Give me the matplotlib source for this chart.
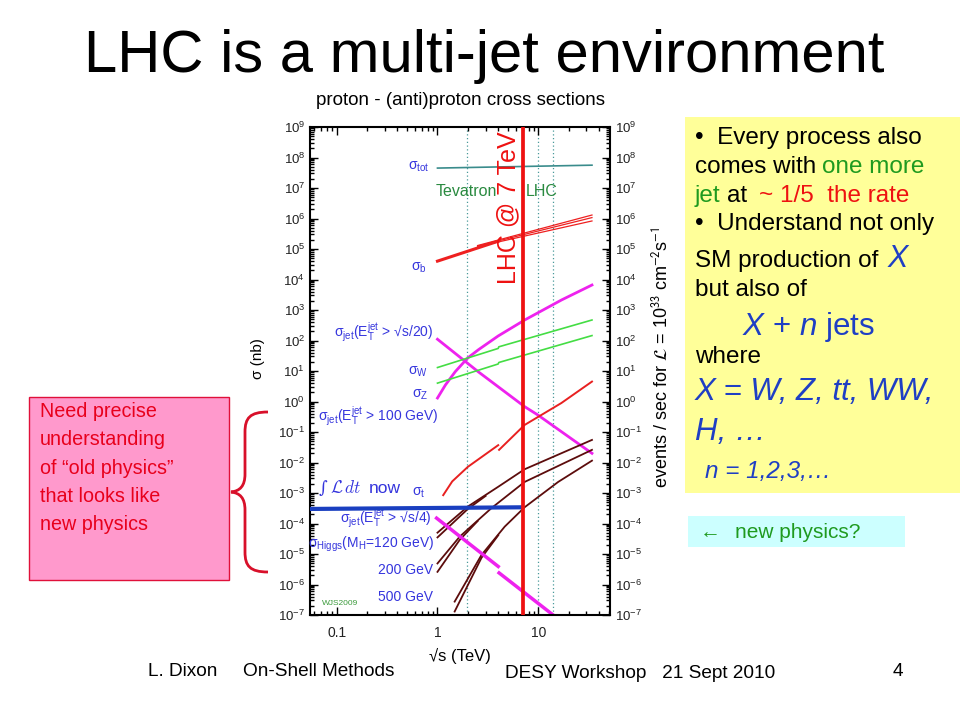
import numpy as np
import matplotlib
matplotlib.use('Agg')
import matplotlib.pyplot as plt
from matplotlib.patches import Rectangle, PathPatch
from matplotlib.path import Path
from matplotlib.ticker import LogLocator, FuncFormatter, NullFormatter, FixedLocator

plt.rcParams['font.family'] = ['Liberation Sans', 'DejaVu Sans']
plt.rcParams['mathtext.fontset'] = 'custom'
plt.rcParams['mathtext.rm'] = 'Liberation Sans'
plt.rcParams['mathtext.it'] = 'Liberation Sans:italic'
plt.rcParams['mathtext.bf'] = 'Liberation Sans:bold'

# cross sections: sqrt(s) in TeV, sigma in nb
tot_rs = [1.0, 34.0]
tot_sig = [4.5e7, 5.6e7]

b_tev_rs = [1.0, 4.0]
b_tev_sig = [4.0e4, 1.8e5]
b_lhc_rs = [2.5, 34.0]
b_lhc_sig = [[1.30e5, 1.30e6], [1.25e5, 1.07e6], [1.20e5, 8.3e5]]

jet_rise_rs = [1.0, 1.2, 1.5, 2.0, 2.55, 4.0, 7.3, 17.0, 34.0]
jet_rise_sig = [1.3, 3.5, 9.5, 27.0, 50.0, 141.0, 468.0, 2140.0, 6600.0]

jet_fall_rs = [1.0, 2.53, 7.3, 9.9, 34.0]
jet_fall_sig = [1.1e2, 9.5, 6.8e-1, 3.6e-1, 2.0e-2]

w_rs = [1.0, 4.0, 4.05, 34.0]
w_sig = [13.0, 55.0, 62.0, 470.0]
z_rs = [1.0, 4.0, 4.05, 34.0]
z_sig = [4.0, 17.0, 19.0, 145.0]

top_tev_rs = [1.14, 1.4, 2.0, 4.0]
top_tev_sig = [8.5e-4, 2.4e-3, 7.2e-3, 3.7e-2]
top_lhc_rs = [4.08, 7.3, 16.9, 34.0]
top_lhc_sig = [2.6e-2, 1.7e-1, 8.9e-1, 4.5]

h120_rs = [1.0, 2.0, 4.0, 7.3, 34.0]
h120_sig = [5.0e-5, 3.6e-4, 1.6e-3, 6.0e-3, 5.5e-2]
h120b_rs = [1.0, 2.0, 3.0]
h120b_sig = [3.5e-5, 3.0e-4, 8.0e-4]

h200_rs = [1.0, 1.66, 3.43, 7.3, 34.0]
h200_sig = [4.9e-6, 3.7e-5, 3.2e-4, 2.3e-3, 2.6e-2]
h200b_rs = [1.0, 1.66, 2.5]
h200b_sig = [2.6e-6, 2.9e-5, 1.2e-4]

h500_rs = [1.48, 2.73, 4.64, 7.3, 15.7, 34.0]
h500_sig = [2.75e-7, 9.3e-6, 7.9e-5, 3.4e-4, 2.3e-3, 1.15e-2]
h500b_rs = [1.48, 2.73, 4.0]
h500b_sig = [1.3e-7, 7.5e-6, 4.1e-5]

jet4_tev_rs = [0.98, 4.0]
jet4_tev_sig = [1.5e-4, 3.9e-6]
jet4_lhc_rs = [4.08, 14.0]
jet4_lhc_sig = [2.4e-6, 1.0e-7]

lumi_rs = [0.0545, 7.0]
lumi_sig = [3.0e-4, 3.4e-4]

tevatron_energy = 1.96
lhc_energies = [10.0, 14.0]
lhc_now = 7.0

W, H = 960, 720
fig = plt.figure(figsize=(W / 100, H / 100), dpi=100)


def fx(x):
    return x / W


def fy(y):
    return 1 - y / H


def ftxt(x, y, s, **kw):
    kw.setdefault('va', 'baseline')
    return fig.text(fx(x), fy(y), s, **kw)


# ---- cross section plot ----
ax = fig.add_axes([fx(310), fy(615), 300 / W, 488 / H])
ax.set_xscale('log')
ax.set_yscale('log')
ax.set_xlim(0.0545, 51.3)
ax.set_ylim(1e-7, 1e9)

mag = '#ee22ee'
maroon = '#5c0c0c'
lblue = '#3535dd'

ax.plot(tot_rs, tot_sig, color='#3a8c8c', lw=1.2)
ax.plot(b_tev_rs, b_tev_sig, color='#ee2020', lw=2.2)
for s in b_lhc_sig:
    ax.plot(b_lhc_rs, s, color='#ee2020', lw=0.9)
ax.plot(jet_rise_rs, jet_rise_sig, color=mag, lw=2)
ax.plot(jet_fall_rs, jet_fall_sig, color=mag, lw=2)
ax.plot(w_rs, w_sig, color='#44dd44', lw=1.2)
ax.plot(z_rs, z_sig, color='#44dd44', lw=1.2)
ax.plot(top_tev_rs, top_tev_sig, color='#e82020', lw=1.4)
ax.plot(top_lhc_rs, top_lhc_sig, color='#e82020', lw=1.4)
for rs, sg in [(h120_rs, h120_sig), (h120b_rs, h120b_sig),
               (h200_rs, h200_sig), (h200b_rs, h200b_sig),
               (h500_rs, h500_sig), (h500b_rs, h500b_sig)]:
    ax.plot(rs, sg, color=maroon, lw=1.3)
ax.plot(jet4_tev_rs, jet4_tev_sig, color=mag, lw=2.5)
ax.plot(jet4_lhc_rs, jet4_lhc_sig, color=mag, lw=2.5)
ax.plot(lumi_rs, lumi_sig, color='#1a3fc0', lw=3, zorder=4, solid_capstyle='butt')

for e in [tevatron_energy] + lhc_energies:
    ax.axvline(e, color='#4a9a9a', lw=0.9, ls=(0, (1, 2)), zorder=1)
ax.axvline(lhc_now, color='#ee1111', lw=2.7, zorder=5)

# labels inside the plot
ax.text(0.65, 3.9e7, r'σ$_{\rm tot}$', color=lblue, fontsize=10, ha='center')
ax.text(0.65, 2.0e4, r'σ$_{\rm b}$', color=lblue, fontsize=10, ha='center')
ax.text(0.91, 1.9e2, r'σ$_{\rm jet}$(E$_{\rm T}^{\rm jet}$ > √s/20)', color=lblue, fontsize=10, ha='right', va='center')
ax.text(0.81, 9.5, r'σ$_{\rm W}$', color=lblue, fontsize=10, ha='right', va='center')
ax.text(0.81, 1.6, r'σ$_{\rm Z}$', color=lblue, fontsize=10, ha='right', va='center')
ax.text(1.02, 0.33, r'σ$_{\rm jet}$(E$_{\rm T}^{\rm jet}$ > 100 GeV)', color=lblue, fontsize=10, ha='right', va='center')
ax.text(0.65, 1.0e-3, r'σ$_{\rm t}$', color=lblue, fontsize=10, ha='center', va='center')
ax.text(0.87, 1.5e-4, r'σ$_{\rm jet}$(E$_{\rm T}^{\rm jet}$ > √s/4)', color=lblue, fontsize=10, ha='right', va='center')
ax.text(0.93, 2.0e-5, r'σ$_{\rm Higgs}$(M$_{\rm H}$=120 GeV)', color=lblue, fontsize=10, ha='right', va='center')
ax.text(0.91, 3.0e-6, '200 GeV', color=lblue, fontsize=10, ha='right', va='center')
ax.text(0.91, 4.0e-7, '500 GeV', color=lblue, fontsize=10, ha='right', va='center')
ax.text(0.071, 2.3e-7, 'WJS2009', color='#3a9a3a', fontsize=6, ha='left', va='center')
ax.text(1.94, 7.4e6, 'Tevatron', color='#2a8a40', fontsize=11.5, ha='center', va='center', zorder=3)
ax.text(10.7, 7.4e6, 'LHC', color='#2a8a40', fontsize=11.5, ha='center', va='center', zorder=3)
ax.text(5.0, 2.2e6, 'LHC @ 7 TeV', color='#ee1111', fontsize=18, rotation=90, ha='center', va='center')

# luminosity label: small integral sign, script L in cm math font
ftxt(319, 493, '∫', fontsize=12, color=lblue, family='DejaVu Serif', style='italic')
ftxt(330, 493, r'$\mathcal{L}\,dt$', fontsize=12.5, color=lblue, math_fontfamily='cm')
ftxt(369, 493, 'now', fontsize=12.5, color=lblue)

ax.set_title('proton - (anti)proton cross sections', fontsize=13.5, pad=16)
ax.set_xlabel('√s (TeV)', fontsize=12, labelpad=6)
ax.set_ylabel('σ (nb)', fontsize=11)
ax.yaxis.set_label_coords(-0.15, 0.525)

ax.yaxis.set_major_locator(LogLocator(base=10, numticks=40))
ax.yaxis.set_minor_locator(LogLocator(base=10, subs=np.arange(2, 10), numticks=40))
ax.yaxis.set_major_formatter(FuncFormatter(
    lambda v, p: r'$\mathdefault{10^{%d}}$' % int(round(np.log10(v)))))
ax.yaxis.set_minor_formatter(NullFormatter())
ax.xaxis.set_major_locator(FixedLocator([0.1, 1, 10]))
ax.xaxis.set_minor_locator(LogLocator(base=10, subs=np.arange(2, 10), numticks=20))
ax.xaxis.set_major_formatter(FuncFormatter(lambda v, p: {0.1: '0.1', 1: '1', 10: '10'}.get(round(v, 1), '')))
ax.xaxis.set_minor_formatter(NullFormatter())
ax.tick_params(which='both', direction='in', top=True, right=True, labelright=True,
               labelsize=9.5, labelcolor='#222222', width=1)
ax.tick_params(axis='x', which='major', labelsize=10, pad=8)
ax.tick_params(which='major', length=6)
ax.tick_params(which='minor', length=3)
for sp in ax.spines.values():
    sp.set_linewidth(1.5)

fig.text(fx(662), fy(357),
         r'events / sec for $\mathcal{L}$ = 10$^{33}$ cm$^{-2}$s$^{-1}$',
         rotation=90, fontsize=13, ha='center', va='center', math_fontfamily='stixsans')

# ---- slide decoration ----
ftxt(484, 72, 'LHC is a multi-jet environment', fontsize=43, ha='center')

fig.add_artist(Rectangle((fx(685), fy(493)), (W - 685) / W, (493 - 117) / H,
                         transform=fig.transFigure, facecolor='#ffff99', edgecolor='none', zorder=0))
fig.add_artist(Rectangle((fx(688), fy(547)), (905 - 688) / W, (547 - 516) / H,
                         transform=fig.transFigure, facecolor='#ccffff', edgecolor='none', zorder=0))
fig.add_artist(Rectangle((fx(29), fy(580)), 200 / W, (580 - 397) / H,
                         transform=fig.transFigure, facecolor='#ff99cc', edgecolor='#e0103a', lw=1, zorder=0))

fs = 17.5
blue = '#1f3fc4'
green = '#1f9a1f'
red = '#ee1111'
ftxt(695, 144, '•  Every process also', fontsize=fs)
ftxt(695, 173, 'comes with', fontsize=fs)
ftxt(822, 173, 'one more', fontsize=fs, color=green)
ftxt(695, 202, 'jet', fontsize=fs, color=green)
ftxt(727, 202, 'at', fontsize=fs)
ftxt(759, 202, '~ 1/5  the rate', fontsize=fs, color=red)
ftxt(695, 230, '•  Understand not only', fontsize=fs)
ftxt(695, 267, 'SM production of', fontsize=fs)
ftxt(888, 267, 'X', fontsize=22, color=blue, style='italic')
ftxt(695, 296, 'but also of', fontsize=fs)
ftxt(742, 335, r'$X$ + $n$ jets', fontsize=22.5, color=blue)
ftxt(695, 363, 'where', fontsize=fs)
ftxt(695, 400, 'X = W, Z, tt, WW,', fontsize=22.5, color=blue, style='italic')
ftxt(695, 440, 'H, …', fontsize=22.5, color=blue, style='italic')
ftxt(705, 478, 'n = 1,2,3,…', fontsize=17.5, color=blue, style='italic')

ftxt(700, 538, '←', fontsize=15, color=green)
ftxt(735, 538, 'new physics?', fontsize=15, color=green)

pink_lines = ['Need precise', 'understanding', 'of “old physics”', 'that looks like', 'new physics']
for i, s in enumerate(pink_lines):
    ftxt(40, 417 + i * 28.3, s, fontsize=14.2, color='#e8001c')

brace = [(268, 412), (250, 412), (245, 418), (245, 432), (245, 474),
         (245, 486), (240, 491), (231, 492), (240, 493), (245, 498), (245, 510),
         (245, 552), (245, 566), (250, 572), (268, 572)]
codes = [Path.MOVETO] + [Path.CURVE4] * 3 + [Path.LINETO] + [Path.CURVE4] * 6 + \
        [Path.LINETO] + [Path.CURVE4] * 3
bp = Path([(fx(x), fy(y)) for x, y in brace], codes)
fig.add_artist(PathPatch(bp, transform=fig.transFigure, fill=False, edgecolor='#d8102a', lw=2))

ftxt(148, 676, 'L. Dixon', fontsize=13.7)
ftxt(243, 676, 'On-Shell Methods', fontsize=13.7)
ftxt(505, 678, 'DESY Workshop   21 Sept 2010', fontsize=13.7)
ftxt(893, 676, '4', fontsize=13.7)

fig.savefig('out.png', dpi=100)
